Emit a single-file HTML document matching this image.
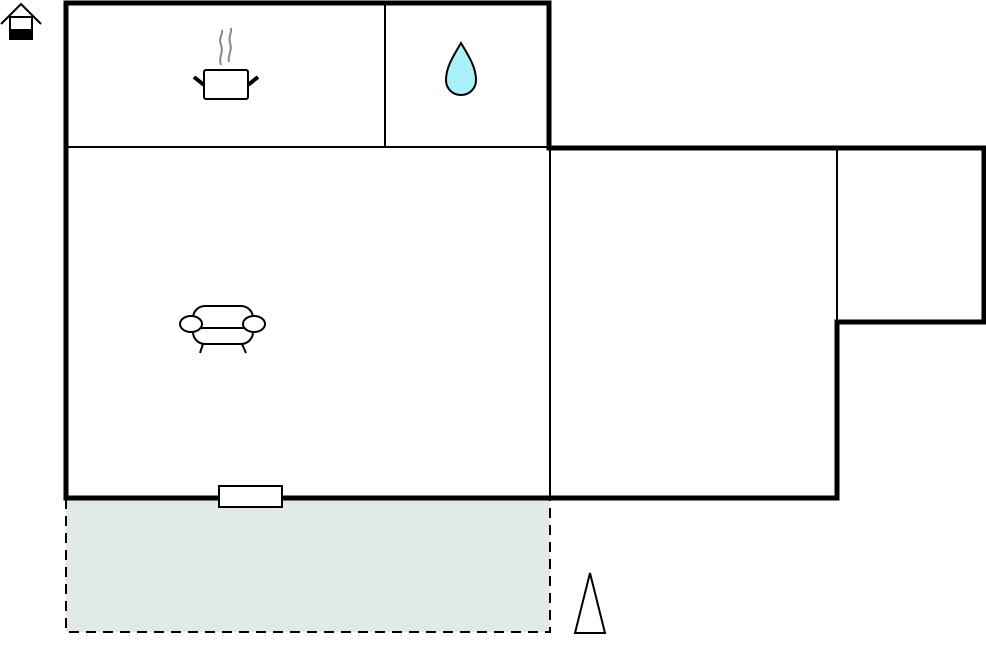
<!DOCTYPE html>
<html><head><style>html,body{margin:0;padding:0;background:#fff;}svg{display:block}</style></head>
<body>
<svg width="986" height="652" viewBox="0 0 986 652" xmlns="http://www.w3.org/2000/svg">
<rect x="66" y="499" width="484" height="133" fill="#e2eae8" stroke="#000" stroke-width="2" stroke-dasharray="10,7"/>
<g stroke="#000" fill="none">
<line x1="66" y1="147" x2="549" y2="147" stroke-width="2"/>
<line x1="385" y1="3" x2="385" y2="147" stroke-width="2"/>
<line x1="550" y1="148" x2="550" y2="498" stroke-width="2"/>
<line x1="837" y1="148" x2="837" y2="322" stroke-width="2"/>
<path d="M66,3 L549,3 L549,148 L984,148 L984,322 L837,322 L837,498 L66,498 Z" stroke-width="5"/>
</g>
<rect x="219" y="486" width="63" height="21" fill="#fff" stroke="#000" stroke-width="2"/>
<polygon points="575,633 590,573 605,633" fill="#fff" stroke="#000" stroke-width="2"/>
<!-- house icon -->
<polyline points="1,24 21,4 41,24" fill="none" stroke="#000" stroke-width="2"/>
<rect x="10" y="17" width="22" height="22" fill="#fff" stroke="#000" stroke-width="2"/>
<rect x="10" y="29" width="22" height="10" fill="#000"/>
<!-- pot -->
<path d="M221,65 C218,58 224,52 221,45 C218,38 223,35 222,30" fill="none" stroke="#888" stroke-width="2"/>
<path d="M229,62 C227,56 233,50 230,43 C228,36 232,33 231,28" fill="none" stroke="#888" stroke-width="2"/>
<rect x="204" y="70" width="44" height="29" rx="2" fill="#fff" stroke="#000" stroke-width="2"/>
<line x1="194" y1="77" x2="204" y2="85" stroke="#000" stroke-width="4"/>
<line x1="258" y1="77" x2="248" y2="85" stroke="#000" stroke-width="4"/>
<!-- drop -->
<path d="M461,43 C452,58 446,68 446,80 C446,89 453,95 461,95 C469,95 476,89 476,80 C476,68 470,58 461,43 Z" fill="#aaf0f8" stroke="#000" stroke-width="2"/>
<!-- sofa -->
<g fill="#fff" stroke="#000" stroke-width="2">
<line x1="203" y1="344" x2="200" y2="353"/>
<line x1="242" y1="344" x2="246" y2="353"/>
<rect x="193" y="306" width="60" height="38" rx="12"/>
<line x1="193" y1="328" x2="253" y2="328"/>
<ellipse cx="191" cy="324" rx="11" ry="8"/>
<ellipse cx="254" cy="324" rx="11" ry="8"/>
</g>
</svg>
</body></html>
